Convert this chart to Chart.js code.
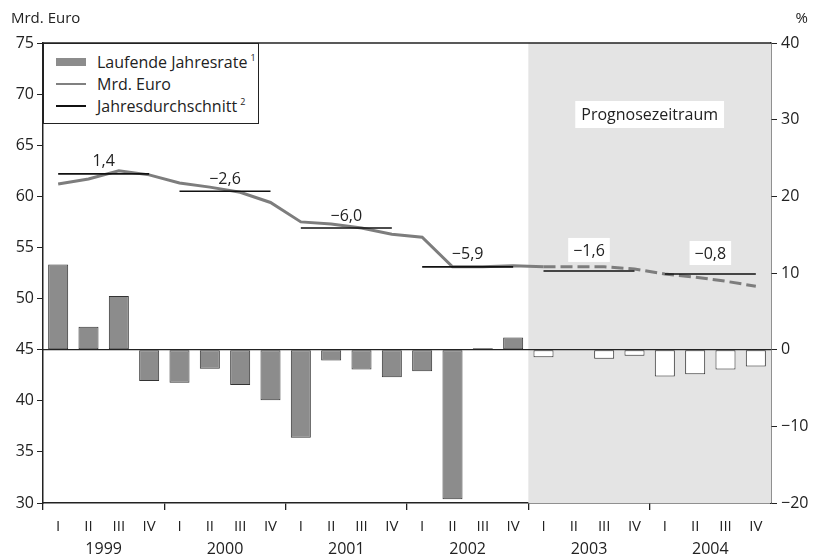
<!DOCTYPE html>
<html><head><meta charset="utf-8">
<script src="https://cdn.jsdelivr.net/npm/chart.js@4.4.0/dist/chart.umd.min.js"></script>
<style>
html,body{margin:0;padding:0;background:#fff;}
#wrap{position:relative;width:814px;height:558px;overflow:hidden;}
#legend{position:absolute;left:43px;top:43px;width:216px;height:81px;border:1px solid #222;background:#fff;box-sizing:border-box;font-family:"Open Sans",sans-serif;font-size:16px;color:#222;}
.row{position:absolute;left:0;height:22px;line-height:22px;width:100%;}
.sw{position:absolute;left:12px;}
.tx{position:absolute;left:53px;top:0;white-space:nowrap;}
sup{font-size:9px;vertical-align:top;position:relative;top:-4px;margin-left:3px;}
</style>
</head><body>
<div id="wrap">
<canvas id="c" width="814" height="558"></canvas>
<div id="legend">
  <div class="row" style="top:7px"><div class="sw" style="top:7px;width:30px;height:8px;background:#8c8c8c;"></div><div class="tx">Laufende Jahresrate<sup>1</sup></div></div>
  <div class="row" style="top:29px"><div class="sw" style="top:10px;width:30px;height:2px;background:#808080;"></div><div class="tx">Mrd. Euro</div></div>
  <div class="row" style="top:51px"><div class="sw" style="top:10px;width:30px;height:2px;background:#111;"></div><div class="tx">Jahresdurchschnitt<sup>2</sup></div></div>
</div>
</div>
<script>
const years = ['1999','2000','2001','2002','2003','2004'];
const quarterNames = ['I','II','III','IV'];
const quarters = years.flatMap(y => quarterNames.map(q => q));
// Laufende Jahresrate (%), right axis
const rates = [11.1, 3.0, 7.0, -4.1, -4.3, -2.5, -4.6, -6.6, -11.5, -1.4, -2.6, -3.6,
               -2.8, -19.5, 0.2, 1.6, -1.0, 0, -1.2, -0.8, -3.5, -3.2, -2.6, -2.2];
// Mrd. Euro, left axis
const euro = [61.2, 61.7, 62.5, 62.1, 61.3, 60.9, 60.4, 59.4, 57.5, 57.3, 56.9, 56.3,
              56.0, 53.1, 53.1, 53.2, 53.1, 53.1, 53.1, 52.9, 52.4, 52.1, 51.7, 51.2];
// Jahresdurchschnitt (Mrd. Euro) and its change labels
const yearAvg = [62.2, 60.5, 56.9, 53.1, 52.7, 52.4];
const yearAvgLabels = ['1,4', '\u22122,6', '\u22126,0', '\u22125,9', '\u22121,6', '\u22120,8'];
const forecastStart = 16; // index of first forecast quarter (2003 I)

const FONT = '"Open Sans", sans-serif';
const INK = '#222';

const avgSets = yearAvg.map((v, i) => ({
  type: 'line',
  label: 'Jahresdurchschnitt',
  data: quarters.map((_, k) => (Math.floor(k / 4) === i ? v : null)),
  yAxisID: 'y', xAxisID: 'x',
  borderColor: '#111', borderWidth: 1.6, pointRadius: 0, spanGaps: false, order: 1
}));

const decor = {
  id: 'decor',
  beforeDatasetsDraw(chart) {
    const {ctx, chartArea: a, scales} = chart;
    const x = scales.x;
    const xs = x.getPixelForValue(forecastStart) - (x.getPixelForValue(1) - x.getPixelForValue(0)) / 2;
    ctx.save();
    ctx.fillStyle = '#e4e4e4';
    ctx.fillRect(xs, a.top, a.right - xs, a.bottom - a.top);
    const y0 = scales.y2.getPixelForValue(0);
    ctx.strokeStyle = INK; ctx.lineWidth = 1.3;
    ctx.beginPath(); ctx.moveTo(a.left, y0); ctx.lineTo(a.right, y0); ctx.stroke();
    ctx.beginPath(); ctx.moveTo(a.left, a.top); ctx.lineTo(a.right, a.top); ctx.stroke();
    ctx.restore();
  },
  afterDatasetsDraw(chart) {
    const {ctx, chartArea: a, scales} = chart;
    const x = scales.x, y = scales.y;
    ctx.save();
    ctx.font = '16px ' + FONT;
    ctx.textAlign = 'center';
    ctx.textBaseline = 'bottom';
    yearAvg.forEach((v, i) => {
      const cx = (x.getPixelForValue(4 * i + 1) + x.getPixelForValue(4 * i + 2)) / 2;
      const boxed = 4 * i >= forecastStart;
      const cy = y.getPixelForValue(v) - (boxed ? 12 : 4);
      const t = yearAvgLabels[i];
      if (boxed) {
        const w = ctx.measureText(t).width + 10;
        ctx.fillStyle = '#fff';
        ctx.fillRect(cx - w / 2, cy - 21, w, 24);
      }
      ctx.fillStyle = INK;
      ctx.fillText(t, cx, cy);
    });
    const xs = x.getPixelForValue(forecastStart) - (x.getPixelForValue(1) - x.getPixelForValue(0)) / 2;
    const px = (xs + a.right) / 2;
    ctx.font = '500 16px ' + FONT;
    const t = 'Prognosezeitraum';
    const w = ctx.measureText(t).width + 12;
    ctx.fillStyle = '#fff';
    ctx.fillRect(px - w / 2, a.top + 58, w, 27);
    ctx.fillStyle = INK;
    ctx.textBaseline = 'middle';
    ctx.fillText(t, px, a.top + 72);
    ctx.font = '15px ' + FONT;
    ctx.textAlign = 'left';
    ctx.fillText('Mrd. Euro', 11, 19);
    ctx.textAlign = 'right';
    ctx.fillText('%', 808, 19);
    ctx.restore();
  }
};

new Chart(document.getElementById('c'), {
  data: {
    labels: quarters,
    datasets: [
      {
        type: 'bar', label: 'Laufende Jahresrate', data: rates,
        yAxisID: 'y2', xAxisID: 'x',
        backgroundColor: rates.map((_, i) => i >= forecastStart ? '#ffffff' : '#8c8c8c'),
        borderColor: '#333', borderWidth: 1, borderSkipped: false,
        barPercentage: 0.66, categoryPercentage: 1, order: 3
      },
      {
        type: 'line', label: 'Mrd. Euro', data: euro,
        yAxisID: 'y', xAxisID: 'x',
        borderColor: '#7d7d7d', borderWidth: 3, pointRadius: 0, tension: 0,
        segment: { borderDash: c => c.p0DataIndex >= forecastStart ? [12, 5] : undefined },
        order: 2
      },
      ...avgSets
    ]
  },
  options: {
    responsive: false, animation: false, devicePixelRatio: 1,
    layout: { padding: { top: 43, left: 0, right: 0, bottom: 0 } },
    plugins: { legend: { display: false }, tooltip: { enabled: false } },
    scales: {
      x: {
        type: 'category', position: 'bottom', offset: true,
        grid: { offset: true, drawOnChartArea: false, drawTicks: true, tickLength: 7,
                color: c => (c.index % 4 === 0 ? INK : 'transparent'), lineWidth: 1.3 },
        border: { display: true, color: INK, width: 1.5 },
        ticks: { color: INK, font: { family: FONT, size: 15 }, padding: 8, maxRotation: 0, autoSkip: false },
        afterFit: s => { s.height = 33; }
      },
      x2: {
        type: 'category', labels: years, position: 'bottom', offset: true,
        grid: { display: false, drawTicks: false }, border: { display: false },
        ticks: { color: INK, font: { family: FONT, size: 16 }, padding: 4, maxRotation: 0 },
        afterFit: s => { s.height = 22; }
      },
      y: {
        position: 'left', min: 30, max: 75,
        grid: { drawOnChartArea: false, drawTicks: true, tickLength: 6, color: INK },
        border: { display: true, color: INK, width: 1.5 },
        ticks: { stepSize: 5, color: INK, font: { family: FONT, size: 16 }, padding: 3 },
        afterFit: s => { s.width = 43; }
      },
      y2: {
        position: 'right', min: -20, max: 40,
        grid: { drawOnChartArea: false, drawTicks: true, tickLength: 6, color: INK },
        border: { display: true, color: INK, width: 1.5 },
        ticks: { stepSize: 10, color: INK, font: { family: FONT, size: 16 }, padding: 4,
                 callback: v => (v < 0 ? '\u2212' + Math.abs(v) : String(v)) },
        afterFit: s => { s.width = 43; }
      }
    }
  },
  plugins: [decor]
});
</script>
</body></html>
